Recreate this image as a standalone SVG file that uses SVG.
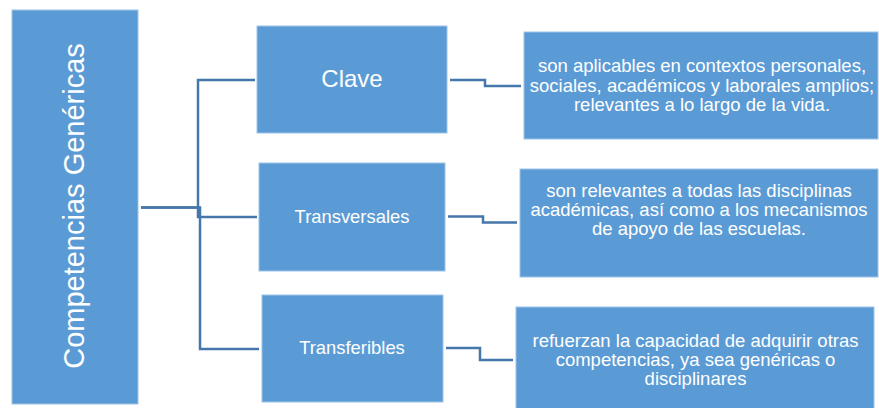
<svg xmlns="http://www.w3.org/2000/svg" width="879" height="408" viewBox="0 0 879 408">
<style>
.box{fill:#5B9BD5;stroke:#9DC3E6;stroke-width:1}
.t{font-family:"Liberation Sans",Arial,sans-serif;fill:#FFFFFF;text-anchor:middle}
.d{font-size:18.5px}
.c{fill:none;stroke:#4677AA;stroke-width:2.5}
</style>
<rect width="879" height="408" fill="#FFFFFF"/>
<g id="connectors">
<path class="c" d="M141,207.5 H198 V80 H255"/>
<path class="c" d="M141,207.5 H198 V217 H257"/>
<path class="c" d="M198,207.5 H200 V349 H259"/>
<path class="c" d="M450,80 H485 V86 H521"/>
<path class="c" d="M448,216.5 H483 V222.5 H517"/>
<path class="c" d="M446,348 H480 V360 H513"/>
</g>
<g id="root">
<rect class="box" x="12" y="10" width="126" height="394"/>
<text class="t" font-size="29" transform="translate(84,206) rotate(-90)">Competencias Genéricas</text>
</g>
<g id="clave">
<rect class="box" x="257" y="26" width="190" height="107"/>
<text class="t" font-size="24" x="352" y="87">Clave</text>
</g>
<g id="transversales">
<rect class="box" x="259" y="163" width="186" height="108"/>
<text class="t" font-size="18.4" x="352" y="223">Transversales</text>
</g>
<g id="transferibles">
<rect class="box" x="262" y="295" width="181" height="107"/>
<text class="t" font-size="18.4" x="352" y="354">Transferibles</text>
</g>
<g id="desc-clave">
<rect class="box" x="524" y="32" width="354" height="107"/>
<text class="t d" x="702" y="72">son aplicables en contextos personales,</text>
<text class="t d" x="702" y="91.5">sociales, académicos y laborales amplios;</text>
<text class="t d" x="702" y="110.5">relevantes a lo largo de la vida.</text>
</g>
<g id="desc-transversales">
<rect class="box" x="520" y="169" width="358" height="108"/>
<text class="t d" x="699" y="196.5">son relevantes a todas las disciplinas</text>
<text class="t d" x="699" y="215.5">académicas, así como a los mecanismos</text>
<text class="t d" x="699" y="235">de apoyo de las escuelas.</text>
</g>
<g id="desc-transferibles">
<rect class="box" x="516" y="307" width="358" height="102"/>
<text class="t d" x="695.5" y="346.5">refuerzan la capacidad de adquirir otras</text>
<text class="t d" x="695.5" y="366">competencias, ya sea genéricas o</text>
<text class="t d" x="695.5" y="385">disciplinares</text>
</g>
</svg>
